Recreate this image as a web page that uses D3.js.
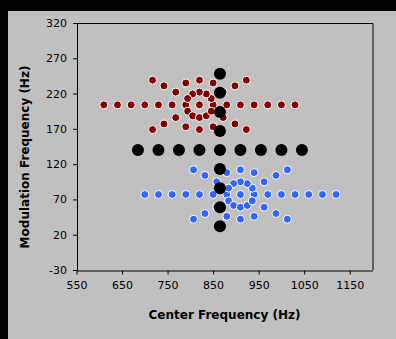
<!DOCTYPE html>
<html>
<head>
<meta charset="utf-8">
<script src="https://cdn.jsdelivr.net/npm/d3@7"></script>
<style>
  html, body { margin: 0; padding: 0; background: #000; }
  svg { display: block; }
</style>
</head>
<body>
<div id="chart"></div>
<script>
// Data: [center frequency Hz, modulation frequency Hz]
const redPoints = [
    // horizontal row
    [610, 204], [640, 204], [670, 204], [700, 204], [730, 204], [760, 204], [790, 204], [820, 204],
    [850, 204], [880, 204], [910, 204], [940, 204], [970, 204], [1000, 204], [1030, 204],
    // inner ring
    [846, 213], [835, 219.5], [820, 222], [805, 219.5], [794, 213],
    [794, 195], [805, 188.5], [820, 186], [835, 188.5], [846, 195],
    // diagonals
    [872, 222], [898, 231], [923, 239], [768, 222], [742, 231], [717, 239],
    [872, 186], [898, 177], [923, 169], [768, 186], [742, 177], [717, 169],
    // outer arc
    [850, 235], [820, 239], [790, 235], [850, 173], [820, 169], [790, 173]
];

const bluePoints = [
    [700, 77], [730, 77], [760, 77], [790, 77], [820, 77], [850, 77], [880, 77], [910, 77],
    [940, 77], [970, 77], [1000, 77], [1030, 77], [1060, 77], [1090, 77], [1120, 77],
    [936, 86], [925, 92.5], [910, 95], [895, 92.5], [884, 86],
    [884, 68], [895, 61.5], [910, 59], [925, 61.5], [936, 68],
    [962, 95], [988, 104], [1013, 112], [858, 95], [832, 104], [807, 112],
    [962, 59], [988, 50], [1013, 42], [858, 59], [832, 50], [807, 42],
    [940, 108], [910, 112], [880, 108], [940, 46], [910, 42], [880, 46]
];

const blackPoints = [
    [685, 140], [730, 140], [775, 140], [820, 140], [865, 140], [910, 140], [955, 140], [1000, 140], [1045, 140],
    [865, 32], [865, 59], [865, 86], [865, 113], [865, 167], [865, 194], [865, 221], [865, 248]
];

const xTicks = [550, 650, 750, 850, 950, 1050, 1150];
const yTicks = [-30, 20, 70, 120, 170, 220, 270, 320];

const width = 396;
const height = 339;
const plot = { left: 76.5, right: 372.5, top: 23, bottom: 270 };

const svg = d3.select('#chart')
    .append('svg')
    .attr('width', width)
    .attr('height', height);

svg.append('rect')
    .attr('width', width).attr('height', height)
    .attr('fill', '#000');

// chart area
svg.append('rect')
    .attr('x', 8).attr('y', 11)
    .attr('width', width - 8).attr('height', height - 11)
    .attr('fill', '#c0c0c0');

const xScale = d3.scaleLinear().domain([550, 1200]).range([plot.left, plot.right]);
const yScale = d3.scaleLinear().domain([-30, 320]).range([plot.bottom, plot.top]);

// plot border (top / right)
svg.append('path')
    .attr('d', `M${plot.left},${plot.top + 0.5}H${plot.right + 0.5}V${plot.bottom}`)
    .attr('fill', 'none')
    .attr('stroke', '#000')
    .attr('stroke-width', 1);

// Axes
const plain = d => String(d);

const xAxis = svg.append('g')
    .attr('transform', `translate(0,${plot.bottom + 0.5})`)
    .call(d3.axisBottom(xScale).tickValues(xTicks).tickFormat(plain)
        .tickSize(4).tickPadding(7).tickSizeOuter(0));

const yAxis = svg.append('g')
    .attr('transform', `translate(${plot.left + 0.5},0)`)
    .call(d3.axisLeft(yScale).tickValues(yTicks).tickFormat(plain)
        .tickSize(4).tickPadding(6).tickSizeOuter(0));

[xAxis, yAxis].forEach(ax => {
    ax.select('.domain').attr('stroke', '#000');
    ax.selectAll('.tick line').attr('stroke', '#000');
    ax.selectAll('.tick text')
        .attr('fill', '#000')
        .style('font-family', '"DejaVu Sans", Verdana, sans-serif')
        .style('font-size', '11px');
});

// Axis titles
svg.append('text')
    .attr('x', (plot.left + plot.right) / 2)
    .attr('y', 319)
    .attr('text-anchor', 'middle')
    .style('font-family', '"DejaVu Sans", Verdana, sans-serif')
    .style('font-size', '12px')
    .style('font-weight', 'bold')
    .attr('fill', '#000')
    .text('Center Frequency (Hz)');

svg.append('text')
    .attr('transform', 'translate(29,157) rotate(-90)')
    .attr('text-anchor', 'middle')
    .style('font-family', '"DejaVu Sans", Verdana, sans-serif')
    .style('font-size', '12px')
    .style('font-weight', 'bold')
    .attr('fill', '#000')
    .text('Modulation Frequency (Hz)');

// Series
const content = svg.append('g').classed('graph-content', true);

content.append('g')
    .classed('red', true)
    .selectAll('circle')
    .data(redPoints)
    .enter()
    .append('circle')
    .attr('cx', d => xScale(d[0]))
    .attr('cy', d => yScale(d[1]))
    .attr('r', 4)
    .attr('fill', '#800000')
    .attr('stroke', '#fff')
    .attr('stroke-width', 1);

content.append('g')
    .classed('blue', true)
    .selectAll('circle')
    .data(bluePoints)
    .enter()
    .append('circle')
    .attr('cx', d => xScale(d[0]))
    .attr('cy', d => yScale(d[1]))
    .attr('r', 4)
    .attr('fill', '#3366ff')
    .attr('stroke', '#fff')
    .attr('stroke-width', 1);

content.append('g')
    .classed('black', true)
    .selectAll('circle')
    .data(blackPoints)
    .enter()
    .append('circle')
    .attr('cx', d => xScale(d[0]))
    .attr('cy', d => yScale(d[1]))
    .attr('r', 6)
    .attr('fill', '#000');
</script>
</body>
</html>
